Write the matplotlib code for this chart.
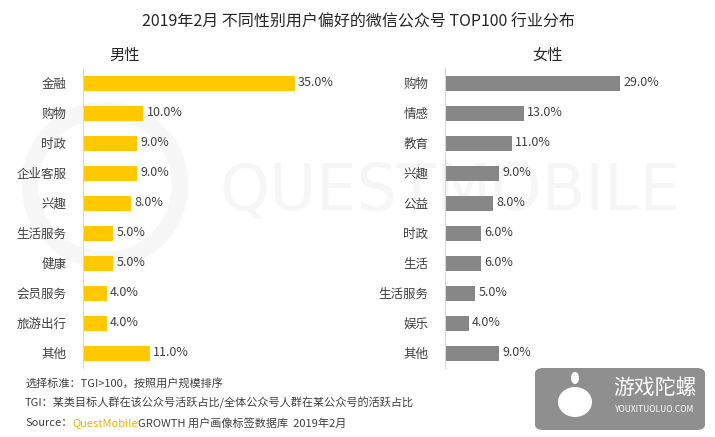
import matplotlib
matplotlib.use("Agg")
import matplotlib.pyplot as plt
from matplotlib.patches import FancyBboxPatch, Ellipse

plt.rcParams['font.family'] = ['Noto Sans CJK SC', 'DejaVu Sans']

title = "2019年2月 不同性别用户偏好的微信公众号 TOP100 行业分布"

male_cats = ["金融", "购物", "时政", "企业客服", "兴趣", "生活服务", "健康", "会员服务", "旅游出行", "其他"]
male_vals = [35.0, 10.0, 9.0, 9.0, 8.0, 5.0, 5.0, 4.0, 4.0, 11.0]

female_cats = ["购物", "情感", "教育", "兴趣", "公益", "时政", "生活", "生活服务", "娱乐", "其他"]
female_vals = [29.0, 13.0, 11.0, 9.0, 8.0, 6.0, 6.0, 5.0, 4.0, 9.0]

notes = [
    "选择标准：TGI>100，按照用户规模排序",
    "TGI：某类目标人群在该公众号活跃占比/全体公众号人群在某公众号的活跃占比",
]

W, H = 715, 437
fig = plt.figure(figsize=(W / 100, H / 100), dpi=100)
fig.patch.set_facecolor("white")

# watermark (behind everything)
fig.text(450 / W, 1 - 192 / H, "QUESTMOBILE", fontsize=46, color="#f6f6f6",
         ha="center", va="center", family="DejaVu Sans", zorder=-5)
fig.patches.append(Ellipse((105 / W, 1 - 185 / H), 150 / W, 150 / H,
                           transform=fig.transFigure, fill=False, lw=12,
                           ec="#f7f7f7", zorder=-5))


def draw_panel(left_px, cats, vals, color, header, header_x):
    ax = fig.add_axes([left_px / W, (H - 368) / H, 260 / W, 300 / H])
    ax.set_zorder(2)
    ax.patch.set_alpha(0)
    y = range(len(cats))
    ax.barh(list(y), vals, height=0.5, color=color)
    ax.set_ylim(len(cats) - 0.5, -0.5)
    ax.set_xlim(0, 43)
    ax.set_yticks(list(y))
    ax.set_yticklabels(cats, fontsize=9, color="#404040")
    ax.tick_params(axis="y", length=0, pad=12)
    ax.set_xticks([])
    for s in ["top", "right", "bottom"]:
        ax.spines[s].set_visible(False)
    ax.spines["left"].set_color("#d9d9d9")
    ax.spines["left"].set_linewidth(0.8)
    for i, v in enumerate(vals):
        ax.text(v + 0.5, i, f"{v:.1f}%", va="center", ha="left",
                fontsize=9, color="#404040")
    fig.text(header_x / W, 1 - 55 / H, header, fontsize=11, fontweight="medium",
             color="#262626", ha="center", va="center")
    return ax


draw_panel(83, male_cats, male_vals, "#FFC800", "男性", 125)
draw_panel(445, female_cats, female_vals, "#878787", "女性", 548)

fig.text(358 / W, 1 - 22 / H, title, fontsize=11.5, color="#262626",
         ha="center", va="center", fontweight="medium")

# footnotes
for k, line in enumerate(notes):
    fig.text(25 / W, 1 - (383 + 20 * k) / H, line, fontsize=8, color="#404040",
             ha="left", va="center")
t = fig.text(25 / W, 1 - 423 / H, "Source：", fontsize=8, color="#404040",
             ha="left", va="center")
fig.canvas.draw()
r = fig.canvas.get_renderer()
bb = t.get_window_extent(r)
t2 = fig.text(bb.x1 / W, 1 - 423 / H, "QuestMobile", fontsize=8, color="#F0B000",
              ha="left", va="center")
bb2 = t2.get_window_extent(r)
fig.text(bb2.x1 / W, 1 - 423 / H, "GROWTH 用户画像标签数据库  2019年2月",
         fontsize=8, color="#404040", ha="left", va="center")

# logo box
box = FancyBboxPatch((535 / W, 1 - 430 / H), 170 / W, 62 / H,
                     boxstyle="round,pad=0,rounding_size=0.012",
                     transform=fig.transFigure, fc="#8f8f8f", ec="none")
fig.patches.append(box)
fig.text(655 / W, 1 - 388 / H, "游戏陀螺", fontsize=15, color="white",
         ha="center", va="center")
fig.text(655 / W, 1 - 410 / H, "YOUXITUOLUO.COM", fontsize=6, color="white",
         ha="center", va="center")
fig.patches.append(Ellipse((575 / W, 1 - 402 / H), 34 / W, 30 / H,
                           transform=fig.transFigure, fc="white", ec="none"))
fig.patches.append(Ellipse((575 / W, 1 - 378 / H), 8 / W, 12 / H,
                           transform=fig.transFigure, fc="white", ec="none"))

fig.savefig("out.png", dpi=100)
